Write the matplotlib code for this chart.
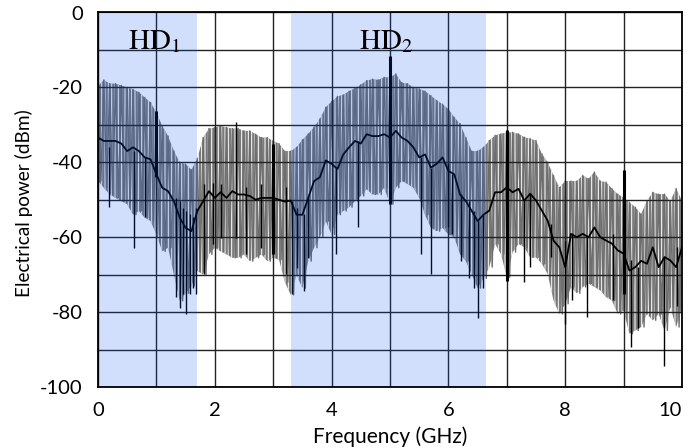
import numpy as np
import matplotlib
matplotlib.use("Agg")
import matplotlib.pyplot as plt

plt.rcParams["mathtext.fontset"] = "stix"
plt.rcParams["hatch.linewidth"] = 0.7

# spectrum, one value every 0.1 GHz (0 .. 10 GHz)
freq = [round(0.1 * i, 1) for i in range(101)]

# gray trace, top and bottom of the strokes (dBm)
upper = [
    -19.6, -18.0, -19.0, -19.0, -19.5, -20.0, -20.5, -21.3, -22.7, -24.0,
    -26.7, -30.3, -33.0, -37.0, -40.0, -40.5, -42.0, -39.0, -33.4, -31.0,
    -30.7, -30.3, -30.7, -31.0, -31.0, -31.6, -31.6, -32.5, -33.4, -33.4,
    -34.3, -35.0, -37.0, -37.0, -36.0, -34.0, -32.4, -30.6, -28.4, -25.3,
    -23.8, -22.4, -22.0, -21.0, -20.2, -19.3, -18.2, -17.8, -18.0, -17.3,
    -17.3, -16.4, -18.7, -19.0, -20.0, -20.4, -21.0, -22.2, -23.5, -24.5,
    -25.8, -28.0, -29.7, -33.4, -37.0, -37.0, -36.0, -34.2, -32.8, -32.4,
    -32.0, -32.0, -32.4, -33.3, -33.7, -34.2, -37.7, -40.0, -43.5, -46.7,
    -45.0, -45.0, -45.0, -43.5, -44.4, -42.6, -45.0, -45.3, -47.0, -48.5,
    -49.4, -50.7, -52.0, -53.8, -50.3, -48.0, -48.5, -48.5, -50.3, -47.0,
    -50.3,
]
lower = [
    -45.0, -46.8, -48.6, -49.5, -50.4, -51.2, -54.0, -53.0, -54.8, -55.7,
    -59.3, -63.8, -62.8, -70.0, -77.0, -75.0, -73.0, -69.0, -70.0, -64.6,
    -62.8, -63.8, -64.6, -65.5, -65.5, -64.6, -66.4, -65.5, -64.6, -66.4,
    -65.5, -66.0, -72.0, -75.4, -70.0, -73.6, -66.4, -62.8, -60.0, -55.7,
    -59.3, -54.0, -53.0, -52.0, -50.4, -49.0, -47.2, -48.6, -48.6, -46.8,
    -51.2, -46.8, -45.0, -45.8, -46.8, -49.5, -54.0, -57.5, -58.4, -57.5,
    -59.3, -60.0, -64.6, -66.4, -70.0, -73.6, -71.0, -68.0, -61.8, -64.5,
    -70.7, -64.0, -61.8, -62.7, -65.4, -65.4, -67.1, -69.8, -76.9, -80.5,
    -77.8, -73.3, -75.0, -73.3, -72.4, -73.3, -74.2, -76.0, -76.9, -80.5,
    -79.6, -85.8, -84.9, -84.0, -80.5, -82.2, -80.5, -84.9, -78.7, -84.0,
    -78.7,
]

# black trace (middle line)
black = [
    -33.4, -34.3, -34.3, -34.3, -35.0, -37.0, -36.0, -37.0, -38.7, -39.2,
    -43.2, -46.8, -47.7, -50.4, -54.8, -57.5, -58.4, -53.0, -50.4, -47.7,
    -49.5, -48.0, -49.5, -47.7, -48.6, -48.6, -49.0, -50.0, -49.5, -49.5,
    -49.5, -50.0, -50.5, -50.2, -54.0, -54.0, -49.5, -45.0, -44.0, -39.5,
    -40.4, -41.8, -37.9, -36.0, -34.3, -35.0, -32.5, -33.0, -33.0, -32.5,
    -33.4, -31.6, -33.4, -34.3, -36.0, -38.7, -37.9, -41.4, -40.4, -38.7,
    -42.3, -43.2, -48.6, -50.4, -53.0, -55.7, -54.0, -52.9, -48.0, -48.0,
    -46.7, -48.0, -47.1, -50.2, -48.4, -50.2, -52.9, -55.6, -60.9, -62.7,
    -68.0, -59.1, -60.0, -59.1, -60.0, -57.4, -60.0, -60.9, -61.7, -63.5,
    -64.4, -68.9, -68.0, -66.3, -67.1, -62.7, -68.0, -65.3, -66.2, -68.0,
    -62.7,
]

# single black strokes of the black trace: freq, top, bottom
stroke_f = [0.18, 0.62, 0.80, 1.34, 1.40, 1.45, 1.51, 1.57, 1.62, 1.67,
            1.82, 1.97, 2.10, 2.36, 2.53, 2.79, 3.22, 3.33, 3.40, 3.52,
            3.60, 4.07, 4.45, 5.53, 5.70, 5.99, 6.07, 6.22, 6.36, 6.44,
            6.51, 6.59, 7.29, 7.40, 7.76, 7.99, 8.11, 8.38, 8.81, 9.13,
            9.24, 9.70, 9.92]
stroke_top = [-36.0, -36.9, -38.7, -49.4, -50.3, -52.1, -53.0, -53.9, -54.7, -52.1,
              -45.8, -45.4, -45.8, -29.3, -46.7, -45.8, -46.7, -50.3, -52.1, -53.9,
              -49.5, -41.4, -34.2, -38.7, -41.4, -40.5, -43.1, -48.5, -50.3, -53.0,
              -55.6, -53.9, -50.2, -48.4, -56.4, -60.9, -59.1, -60.0, -59.1, -66.2,
              -68.0, -65.4, -62.7]
stroke_bot = [-52.0, -62.8, -54.7, -76.1, -78.8, -75.2, -80.6, -75.2, -73.5, -75.2,
              -69.9, -61.9, -60.1, -60.1, -64.5, -62.8, -69.9, -75.2, -68.1, -74.3,
              -65.5, -64.5, -57.4, -64.5, -69.9, -57.4, -59.1, -66.3, -70.8, -73.5,
              -81.5, -73.5, -72.0, -68.0, -65.4, -83.2, -76.9, -81.4, -76.9, -89.4,
              -84.3, -94.3, -78.3]

# carrier peaks: freq, top, bottom
peak_f = [1.0, 3.0, 5.0, 7.0, 9.0]
peak_top = [-26.2, -35.1, -11.5, -31.3, -42.0]
peak_bot = [-44.0, -64.5, -51.2, -71.6, -75.1]

# shaded harmonic bands
bands = [(0.0, 1.69, "HD", "1", 0.97), (3.30, 6.64, "HD", "2", 4.93)]

fig = plt.figure(figsize=(6.96, 4.48), dpi=100)
ax = fig.add_axes([98 / 696, 1 - 387 / 448, 584 / 696, 374.5 / 448])

# gray trace: band between the stroke ends, striped like the dense trace
ax.fill_between(freq, lower, upper, facecolor="#7b7b7b", edgecolor="white",
                hatch="|||||", lw=0, zorder=2)
# ragged stroke tips
zx = []
zy = []
for f, hi, lo in zip(freq, upper, lower):
    zx += [f, f + 0.05]
    zy += [hi, lo]
ax.plot(zx, zy, color="#6e6e6e", lw=1.0, zorder=2)

ax.vlines(stroke_f, stroke_bot, stroke_top, color="black", lw=1.0, zorder=3)
ax.plot(freq, black, color="black", lw=1.3, zorder=3)
ax.vlines(peak_f, peak_bot, peak_top, color="black", lw=2.2, zorder=3)

ax.set_xlim(0, 10)
ax.set_ylim(-100, 0)
ax.set_xticks(range(11))
ax.set_xticklabels([str(i) if i % 2 == 0 else "" for i in range(11)])
ax.xaxis.get_ticklabels()[-1].set_ha("right")
ax.set_yticks(range(-100, 1, 10))
ax.set_yticklabels([str(v) if v % 20 == 0 else "" for v in range(-100, 1, 10)])
ax.grid(True, color="#222222", lw=1.0, zorder=4)
ax.set_axisbelow(False)
ax.tick_params(length=0, labelsize=14.5, pad=11)
for lab in ax.get_xticklabels() + ax.get_yticklabels():
    lab.set_fontfamily("Lato")
for s in ax.spines.values():
    s.set_linewidth(1.3)
    s.set_zorder(6)

for x0, x1, name, sub, xc in bands:
    ax.axvspan(x0, x1, ymax=0.995, color=(0.0, 0.31, 0.94), alpha=0.18, lw=0, zorder=5)
    ax.text(xc, -9.8, r"$\mathrm{%s}_{%s}$" % (name, sub), fontsize=21,
            ha="center", va="baseline", zorder=7)

ax.set_xlabel("Frequency (GHz)", fontsize=15, family="Lato", labelpad=5)
ax.set_ylabel("Electrical power (dBm)", fontsize=13.7, family="Lato")
ax.yaxis.set_label_coords(-0.112, 0.49)

fig.savefig("out.png", dpi=100)
